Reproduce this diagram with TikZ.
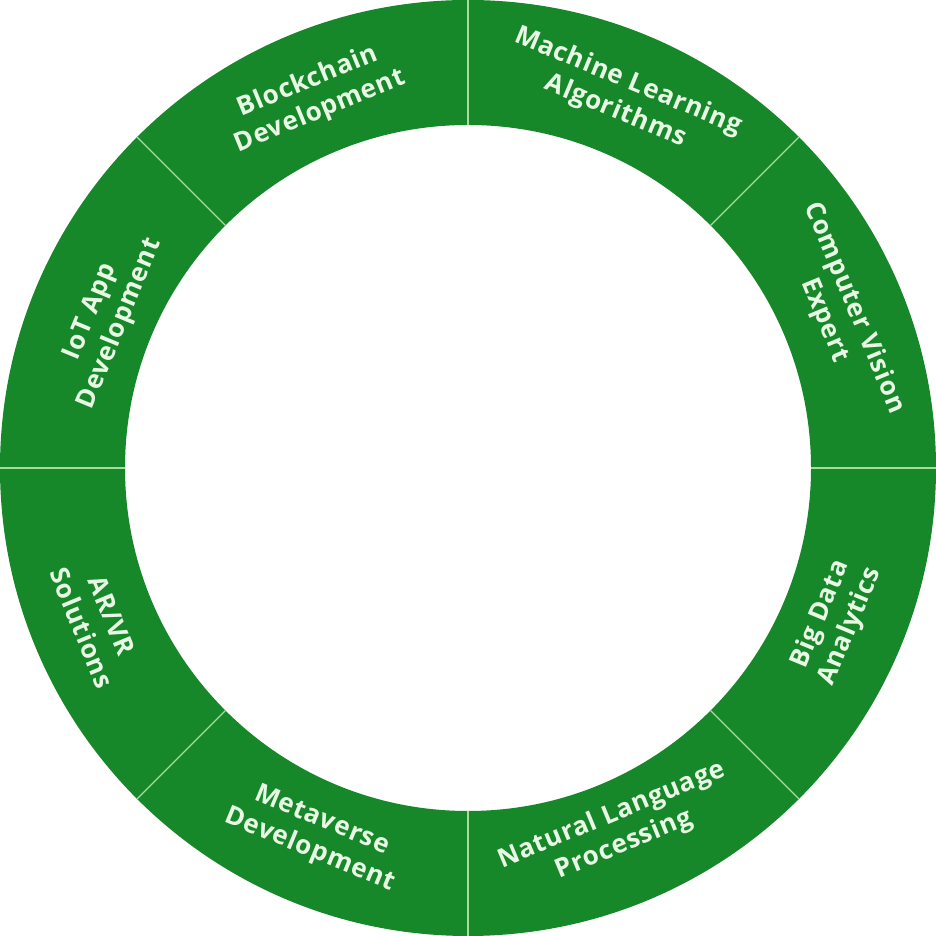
\documentclass[tikz,border=0pt]{standalone}
\usepackage{fontspec}
\setmainfont{Open Sans}[LetterSpace=3]
\definecolor{ringgreen}{HTML}{17882A}
\definecolor{txt}{HTML}{E8F8E4}
\definecolor{sep}{HTML}{A6DC9C}
\begin{document}
\begin{tikzpicture}[x=1pt,y=1pt,
  lbl/.style={text=txt, font=\bfseries\fontsize{26}{32}\selectfont, align=center, inner sep=0pt}]
\useasboundingbox (0,0) rectangle (936,936);
\fill[white] (0,0) rectangle (936,936);
\coordinate (c) at (468,468);
\fill[ringgreen, even odd rule] (c) circle[radius=468pt] (c) circle[radius=343pt];
\foreach \a in {0,45,...,315}
  \draw[sep, line width=1.2pt] ([shift={(\a:343pt)}]c) -- ([shift={(\a:468pt)}]c);
\node[lbl, rotate=22.5]  (bc) at ([shift={(112.5:402pt)}]c) {Blockchain\\Development};
\node[lbl, rotate=-22.5] (ml) at ([shift={(67.5:402pt)}]c) {Machine Learning\\Algorithms};
\node[lbl, rotate=-67.5] (cv) at ([shift={(22.5:402pt)}]c) {Computer Vision\\Expert};
\node[lbl, rotate=67.5]  (bd) at ([shift={(-22.5:398pt)}]c) {Big Data\\Analytics};
\node[lbl, rotate=22.5]  (nl) at ([shift={(-67.5:392pt)}]c) {Natural Language\\Processing};
\node[lbl, rotate=-22.5] (mv) at ([shift={(-112.5:398pt)}]c) {Metaverse\\Development};
\node[lbl, rotate=-67.5] (ar) at ([shift={(-157.5:402pt)}]c) {AR/VR\\Solutions};
\node[lbl, rotate=67.5]  (io) at ([shift={(157.5:392pt)}]c) {IoT App\\Development};
\end{tikzpicture}
\end{document}
